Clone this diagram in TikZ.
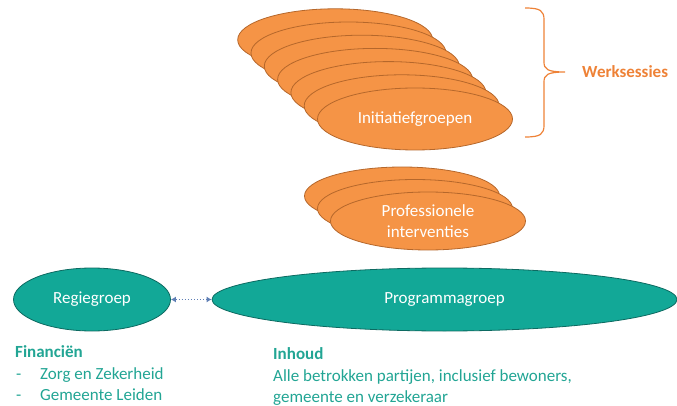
\documentclass[tikz,border=0pt]{standalone}
\usepackage{fontspec}
\setmainfont{Carlito}
\usepackage{xcolor}
\usepackage{tikz}
\usetikzlibrary{positioning, arrows.meta, shapes.geometric}

\definecolor{oranjevul}{HTML}{F59446}
\definecolor{oranjerand}{HTML}{B5672B}
\definecolor{oranjetekst}{HTML}{EE8237}
\definecolor{groenvul}{HTML}{12A897}
\definecolor{groenrand}{HTML}{0D6A61}
\definecolor{groentekst}{HTML}{22A594}
\definecolor{pijlblauw}{HTML}{5F7FB5}

\begin{document}
\begin{tikzpicture}[
      x=1pt, y=-1pt,
      groep/.style   = {ellipse, draw=oranjerand, fill=oranjevul, line width=0.8pt, inner sep=0pt,
                        minimum width=195pt, text=white, align=center,
                        font=\fontsize{17}{20.5}\selectfont},
      initgroep/.style = {groep, minimum height=62pt},
      profgroep/.style = {groep, minimum height=58pt},
      overleg/.style = {ellipse, draw=groenrand, fill=groenvul, line width=0.8pt, inner sep=0pt,
                        minimum height=63pt, text=white, font=\fontsize{17}{20}\selectfont},
      kop/.style     = {inner sep=0pt, anchor=base west, text=groentekst,
                        font=\fontsize{17}{20}\selectfont\bfseries},
      regel/.style   = {inner sep=0pt, anchor=base west, text=groentekst,
                        font=\fontsize{17}{20}\selectfont},
      verbind/.style = {pijlblauw, dotted, line width=1.1pt,
                        {Latex[length=5pt,width=6pt]}-{Latex[length=5pt,width=6pt]}},
      haak/.style    = {oranjetekst, line width=1.2pt}
  ]
  \useasboundingbox (0,0) rectangle (677,406);

  % --- Stapel initiatiefgroepen (achterste eerst) ---
  \foreach \k in {6,5,...,1}
    \node[initgroep] (ini\k) at ({415-13.3*\k},{119-13.2*\k}) {};
  \node[initgroep] (ini) at (415,119) {Initiatiefgroepen};

  % --- Stapel professionele interventies ---
  \foreach \k in {2,1}
    \node[profgroep] (prof\k) at ({428-13*\k},{221-12.5*\k}) {};
  \node[profgroep] (prof) at (428,221) {Professionele\\interventies};

  % --- Regiegroep en programmagroep ---
  \node[overleg, minimum width=157pt] (regie) at (92,299.5) {Regiegroep};
  \node[overleg, minimum width=465pt] (prog)  at (444.5,299.5) {Programmagroep};
  \draw[verbind] (regie.east) -- (prog.west);

  % --- Accolade met werksessies ---
  \coordinate (hboven) at (525,8);
  \coordinate (hpunt)  at (565,72);
  \coordinate (honder) at (525,137);
  \draw[haak] (hboven) .. controls (541,8) and (544,11) .. (544,20) -- (544,62)
        .. controls (544,69) and (547,72) .. (hpunt)
        .. controls (547,72) and (544,75) .. (544,82) -- (544,125)
        .. controls (544,134) and (541,137) .. (honder);
  \node[right=17pt of hpunt, inner sep=0pt, text=oranjetekst,
        font=\fontsize{17}{20}\selectfont\bfseries] (werk) {Werksessies};

  % --- Toelichting onder de groepen ---
  \node[kop]   (fin)   at (15,357.5) {Financiën};
  \node[regel] (strA)  at (16,379)   {-};
  \node[regel] (finA)  at (40,379)   {Zorg en Zekerheid};
  \node[regel] (strB)  at (16,400.5) {-};
  \node[regel] (finB)  at (40,400.5) {Gemeente Leiden};

  \node[kop]   (inh)   at (273,359)  {Inhoud};
  \node[regel] (inhA)  at (273,381)  {Alle betrokken partijen, inclusief bewoners,};
  \node[regel] (inhB)  at (273,402)  {gemeente en verzekeraar};

\end{tikzpicture}
\end{document}
